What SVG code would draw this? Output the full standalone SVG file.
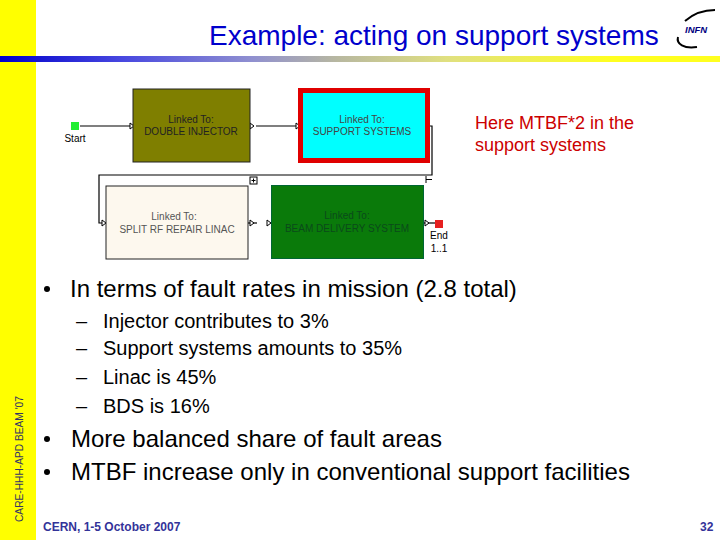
<svg xmlns="http://www.w3.org/2000/svg" width="720" height="540" viewBox="0 0 720 540">
<defs>
<linearGradient id="bar" x1="0" x2="1" y1="0" y2="0"><stop offset="0" stop-color="#0000cc"/><stop offset="0.17" stop-color="#4848e0"/><stop offset="0.35" stop-color="#9090d0"/><stop offset="0.47" stop-color="#b8b8a0"/><stop offset="0.62" stop-color="#e0e080"/><stop offset="0.85" stop-color="#ffff20"/><stop offset="1" stop-color="#ffff20"/></linearGradient>
</defs>
<style>
text{font-family:"Liberation Sans",Arial,sans-serif}
.t{fill:#0000cc;font-size:28px}
.b1{fill:#000;font-size:24px}
.b2{fill:#000;font-size:20px}
.nl{font-size:10px;text-anchor:middle}
.w{fill:none;stroke:#000;stroke-width:1.2}
.p{fill:#fff;stroke:#000;stroke-width:1}
.foot{fill:#333399;font-size:12px;font-weight:bold}
</style>
<rect width="720" height="540" fill="#fff"/>
<rect x="0" y="0" width="36" height="540" fill="#ffff00"/>
<rect x="0" y="56" width="720" height="6" fill="url(#bar)"/>
<text class="t" x="209" y="45">Example: acting on support systems</text>
<g id="logo">
<path d="M685 21C693 14 704 10 715 10" fill="none" stroke="#000" stroke-width="2"/>
<path d="M678 37C676 44 684 49 697 47" fill="none" stroke="#000" stroke-width="2"/>
<text x="685" y="33" font-size="9.500" font-weight="bold" font-style="italic" fill="#000080">INFN</text>
</g>
<g id="connectors">
<path class="w" d="M80 126H130"/>
<path class="w" d="M256 126H298"/>
<path class="w" d="M430 126H432V175H99V223H104"/>
<path class="w" d="M247 223H257"/>
<path class="w" d="M424 223H436"/>
<path class="p" d="M130 123L134 126L130 129Z"/>
<path class="p" d="M250 123L254 126L250 129Z"/>
<path class="p" d="M296 123L300 126L296 129Z"/>
<path class="p" d="M424 123L428 126L424 129Z"/>
<path class="p" d="M102 220L106 223L102 226Z"/>
<path class="p" d="M250 220L254 223L250 226Z"/>
<path class="p" d="M267 220L271 223L267 226Z"/>
<path class="p" d="M425 220L429 223L425 226Z"/>
<path d="M426 176V183M426 179.500H432" fill="none" stroke="#000"/>
<rect x="250" y="177" width="7" height="7" fill="#fff" stroke="#000"/>
<path d="M251.500 180.500H255.500M253.500 178.500V182.500" stroke="#000"/>
</g>
<g id="start"><rect x="71" y="122" width="8" height="8" fill="#22ee33"/><text class="nl" x="75" y="142">Start</text></g>
<g id="double-injector"><rect x="133" y="89" width="117" height="73" fill="#7f7f00" stroke="#222"/><text class="nl" x="191" y="123" fill="#222">Linked To:</text><text class="nl" x="191" y="135" fill="#222">DOUBLE INJECTOR</text></g>
<g id="support-systems"><rect x="300.500" y="90.500" width="127" height="70" fill="#00ffff" stroke="#e00000" stroke-width="5"/><text class="nl" x="362" y="123" fill="#444">Linked To:</text><text class="nl" x="362" y="135" fill="#444">SUPPORT SYSTEMS</text></g>
<g id="linac"><rect x="106" y="186" width="142" height="73" fill="#fdf8ee" stroke="#222"/><text class="nl" x="174" y="220" fill="#555">Linked To:</text><text class="nl" x="177" y="233" fill="#555">SPLIT RF REPAIR LINAC</text></g>
<g id="beam-delivery"><rect x="271.500" y="185.500" width="152" height="73" fill="#0a7a0a" stroke="#063"/><text class="nl" x="347" y="219" fill="#0a4a1a">Linked To:</text><text class="nl" x="347" y="232" fill="#0a4a1a">BEAM DELIVERY SYSTEM</text></g>
<g id="end"><rect x="435" y="220" width="8" height="8" fill="#e62020"/><text class="nl" x="439" y="239">End</text><text class="nl" x="439" y="252">1..1</text></g>
<g id="note" fill="#cc0000" font-size="18px"><text x="475" y="129">Here MTBF*2 in the</text><text x="475" y="151">support systems</text></g>
<g id="body">
<circle cx="47" cy="289" r="3"/>
<text class="b1" x="70" y="297">In terms of fault rates in mission (2.8 total)</text>
<text class="b2" x="76" y="328">–</text><text class="b2" x="103" y="328">Injector contributes to 3%</text>
<text class="b2" x="76" y="355">–</text><text class="b2" x="103" y="355">Support systems amounts to 35%</text>
<text class="b2" x="76" y="384">–</text><text class="b2" x="103" y="384">Linac is 45%</text>
<text class="b2" x="76" y="413">–</text><text class="b2" x="103" y="413">BDS is 16%</text>
<circle cx="47" cy="439" r="3"/>
<text class="b1" x="71" y="447">More balanced share of fault areas</text>
<circle cx="47" cy="472" r="3"/>
<text class="b1" x="71" y="480">MTBF increase only in conventional support facilities</text>
</g>
<text class="foot" x="43" y="531">CERN, 1-5 October 2007</text>
<text class="foot" x="700" y="531">32</text>
<text x="23" y="522" transform="rotate(-90 23 522)" font-size="10.200" fill="#333366">CARE-HHH-APD BEAM '07</text>
</svg>
